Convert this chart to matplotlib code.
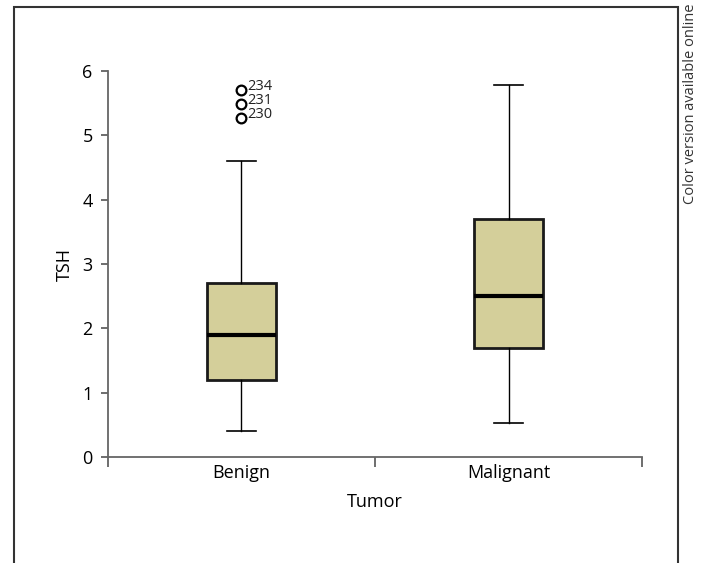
import matplotlib.pyplot as plt
from matplotlib.patches import Rectangle

plt.rcParams['font.family'] = ['Open Sans', 'DejaVu Sans']

groups = ["Benign", "Malignant"]
whislo = [0.40, 0.53]
q1 = [1.20, 1.70]
med = [1.90, 2.50]
q3 = [2.70, 3.70]
whishi = [4.60, 5.78]
outliers = [[5.27, 5.49, 5.70], []]
outlier_ids = [["230", "231", "234"], []]

stats = []
for i in range(len(groups)):
    stats.append(dict(label=groups[i], whislo=whislo[i], q1=q1[i], med=med[i],
                      q3=q3[i], whishi=whishi[i], fliers=outliers[i]))

fig = plt.figure(figsize=(7.01, 5.63), dpi=100)
ax = fig.add_axes([0.154, 0.188, 0.762, 0.686])

bp = ax.bxp(stats, positions=[1, 2], widths=0.26, patch_artist=True,
            boxprops=dict(facecolor="#d4cf9a", edgecolor="#1a1a1a", linewidth=2),
            medianprops=dict(color="black", linewidth=3),
            whiskerprops=dict(color="black", linewidth=1),
            capprops=dict(color="black", linewidth=1.2),
            capwidths=0.11,
            flierprops=dict(marker="o", markersize=7, markerfacecolor="none",
                            markeredgecolor="black", markeredgewidth=1.6))

for i, ids in enumerate(outlier_ids):
    for val, lab in zip(outliers[i], ids):
        ax.annotate(lab, (i + 1, val), xytext=(4, 2.5), textcoords="offset points",
                    fontsize=10.5, color="#222222", va="center")

ax.set_xlim(0.5, 2.5)
ax.set_ylim(0, 6)
ax.set_yticks(range(7))
ax.set_xticks([0.5, 1.5, 2.5])
ax.set_xticklabels([])
ax.set_xticks([1, 2], minor=True)
ax.set_xticklabels(groups, minor=True)
ax.tick_params(axis="x", which="minor", length=0, pad=5, labelsize=13)
ax.tick_params(axis="x", which="major", length=7, width=1.2, color="#555555", direction="out")
ax.tick_params(axis="y", length=5, width=1.2, color="#555555", labelsize=13, pad=6)

for s in ["top", "right"]:
    ax.spines[s].set_visible(False)
for s in ["left", "bottom"]:
    ax.spines[s].set_color("#666666")
    ax.spines[s].set_linewidth(1.3)
ax.spines["left"].set_bounds(0, 6)

ax.set_xlabel("Tumor", fontsize=13, labelpad=8)
ax.set_ylabel("TSH", fontsize=13, labelpad=6)

frame = Rectangle((14 / 701, -0.1), (678 - 14) / 701, 1.1 - 7 / 563,
                  transform=fig.transFigure, fill=False, edgecolor="#333333",
                  linewidth=1.5, clip_on=False)
fig.patches.append(frame)

fig.text(690 / 701, 1 - 4 / 563, "Color version available online", rotation=90,
         ha="center", va="top", fontsize=10.5, color="#333333")

fig.savefig("out.png", dpi=100)
